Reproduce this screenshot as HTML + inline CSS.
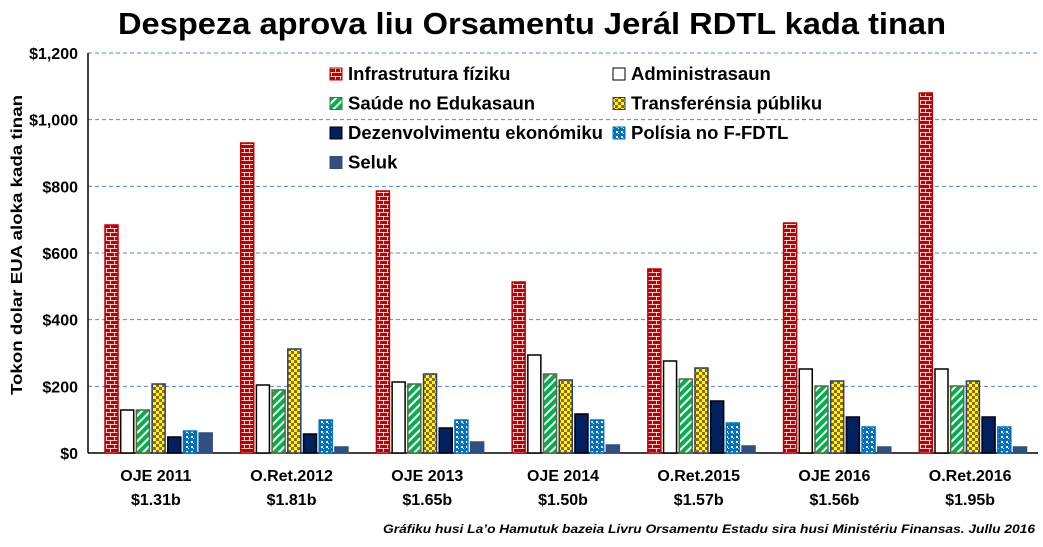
<!DOCTYPE html>
<html><head><meta charset="utf-8"><style>
body{margin:0;background:#fff;width:1043px;height:542px;overflow:hidden;font-family:"Liberation Sans",sans-serif}
</style></head><body>
<svg id="chart" width="1043" height="542" xmlns="http://www.w3.org/2000/svg">
<defs>
<pattern id="p-brick" width="13" height="8" patternUnits="userSpaceOnUse">
<rect width="13" height="8" fill="#c00000"/>
<line x1="0" y1="0.5" x2="13" y2="0.5" stroke="#fff" stroke-width="0.8"/>
<line x1="0" y1="4.5" x2="13" y2="4.5" stroke="#fff" stroke-width="0.8"/>
<line x1="6.5" y1="0" x2="6.5" y2="4" stroke="#fff" stroke-width="0.8"/>
<line x1="2.5" y1="4" x2="2.5" y2="8" stroke="#fff" stroke-width="0.8"/>
<line x1="10.5" y1="4" x2="10.5" y2="8" stroke="#fff" stroke-width="0.8"/>
</pattern>
<pattern id="p-diag" width="6" height="6" patternUnits="userSpaceOnUse" patternTransform="rotate(45)">
<rect width="6" height="6" fill="#00b050"/><rect width="2" height="6" fill="#fff"/>
</pattern>
<pattern id="p-check" width="6" height="6" patternUnits="userSpaceOnUse">
<rect width="6" height="6" fill="#ffff00"/><rect width="3" height="3" fill="#996600"/><rect x="3" y="3" width="3" height="3" fill="#996600"/>
</pattern>
<pattern id="p-dots" width="5" height="5" patternUnits="userSpaceOnUse">
<rect width="5" height="5" fill="#0070c0"/><rect x="1" y="1" width="2" height="2" fill="#fff"/><rect x="3" y="3" width="1" height="1" fill="#fff"/>
</pattern>
</defs>
<text x="118" y="34" textLength="828" lengthAdjust="spacingAndGlyphs" font-size="31" font-weight="bold">Despeza aprova liu Orsamentu Jerál RDTL kada tinan</text>
<text transform="translate(22,245) rotate(-90)" text-anchor="middle" textLength="300" lengthAdjust="spacingAndGlyphs" font-size="16" font-weight="bold">Tokon dolar EUA aloka kada tinan</text>
<g id="grid"></g><g id="bars"></g><g id="labels"></g>
<text x="383" y="533" textLength="652" lengthAdjust="spacingAndGlyphs" font-size="12" font-style="italic" font-weight="bold">Gráfiku husi La’o Hamutuk bazeia Livru Orsamentu Estadu sira husi Ministériu Finansas.  Jullu 2016</text>
<g id="legend"></g>
</svg>
<script>
const categories=["OJE 2011","O.Ret.2012","OJE 2013","OJE 2014","O.Ret.2015","OJE 2016","O.Ret.2016"];
const totals=["$1.31b","$1.81b","$1.65b","$1.50b","$1.57b","$1.56b","$1.95b"];
const seriesNames=["Infrastrutura fíziku","Administrasaun","Saúde no Edukasaun","Transferénsia públiku","Dezenvolvimentu ekonómiku","Polísia no F-FDTL","Seluk"];
const infra=[684,930,786,513,552,690,1080];
const admin=[129,204,213,294,276,252,252];
const health=[129,189,207,237,222,201,201];
const transfer=[207,312,237,219,255,216,216];
const econ=[48,57,75,117,156,108,108];
const police=[66,99,99,99,90,78,78];
const other=[60,18,33,24,21,18,18];
const yTicks=[0,200,400,600,800,1000,1200];
const series=[infra,admin,health,transfer,econ,police,other];
const fills=["url(#p-brick)","#fff","url(#p-diag)","url(#p-check)","#002060","url(#p-dots)","#2f5080"];
const strokes=["#c00000","#000","#5a6a30","#1f3d8a","#000","#0070c0","#2f5080"];
const NS="http://www.w3.org/2000/svg";
const x0=88,x1=1038,y0=453,y1=53,yMax=1200;
const yS=v=>y0-(v/yMax)*(y0-y1);
const gW=(x1-x0)/categories.length;
function mk(t,a,p){const e=document.createElementNS(NS,t);for(const k in a)e.setAttribute(k,a[k]);p.appendChild(e);return e;}
const grid=document.getElementById('grid');
yTicks.forEach(v=>{
 if(v>0){const l=mk('line',{x1:x0,x2:x1,y1:yS(v),y2:yS(v),stroke:'#4a86d0','stroke-dasharray':'4,3','stroke-width':1},grid);
 
 }
 const t=mk('text',{x:78,y:yS(v)+6,'text-anchor':'end','font-size':16,'font-weight':'bold'},grid);t.textContent='$'+v.toLocaleString('en-US');
 
 
});
const ax=mk('line',{x1:x0,x2:x0,y1:y1,y2:y0,stroke:'#000','stroke-width':1.5},grid);


const ax2=mk('line',{x1:x0,x2:x1,y1:y0,y2:y0,stroke:'#000','stroke-width':1.5},grid);


const bars=document.getElementById('bars'),labels=document.getElementById('labels');
categories.forEach((c,i)=>{
 series.forEach((s,j)=>{
  const bx=x0+gW*i+17+j*15.7;
  const r=mk('rect',{x:bx,y:yS(s[i]),width:13,height:y0-yS(s[i]),fill:fills[j],stroke:strokes[j],'stroke-width':1.5},bars);
  
  
 });
 const cx=x0+gW*(i+0.5);
 const t=mk('text',{x:cx,y:481,'text-anchor':'middle','font-size':16,'font-weight':'bold'},labels);t.textContent=c;
 
 
 const t2=mk('text',{x:cx,y:505,'text-anchor':'middle','font-size':16,'font-weight':'bold'},labels);t2.textContent=totals[i];
 
 
});
const lg=document.getElementById('legend');
seriesNames.forEach((n,j)=>{
 const col=j%2,row=Math.floor(j/2);
 const lx=col?613:330,ly=74+row*29.5;
 const g=mk('g',{},lg);
 
 
 mk('rect',{x:lx,y:ly-6,width:12,height:12,fill:fills[j],stroke:strokes[j],'stroke-width':1},g);
 const t=mk('text',{x:lx+18,y:ly+6,'font-size':18.5,'font-weight':'bold'},g);t.textContent=n;
});
</script>
</body></html>
